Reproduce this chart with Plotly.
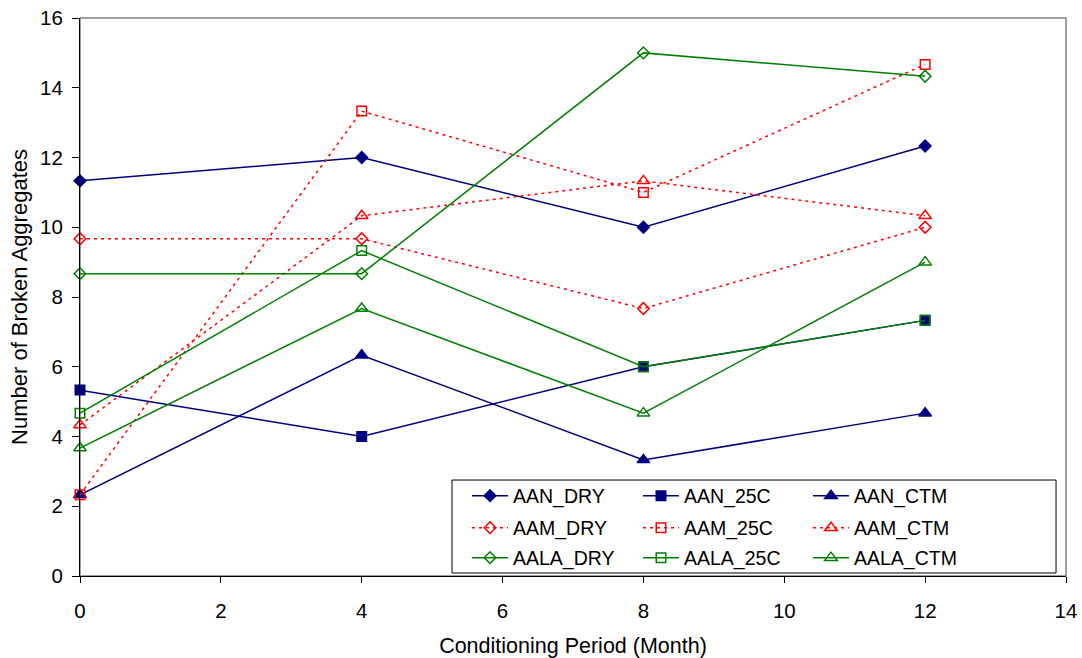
import plotly.graph_objects as go

months = [0, 4, 8, 12]

aan_dry = [11.33, 12.0, 10.0, 12.33]
aan_25c = [5.33, 4.0, 6.0, 7.33]
aan_ctm = [2.33, 6.33, 3.33, 4.67]
aam_dry = [9.67, 9.67, 7.67, 10.0]
aam_25c = [2.33, 13.33, 11.0, 14.67]
aam_ctm = [4.33, 10.33, 11.33, 10.33]
aala_dry = [8.67, 8.67, 15.0, 14.33]
aala_25c = [4.67, 9.33, 6.0, 7.33]
aala_ctm = [3.67, 7.67, 4.67, 9.0]

x_ticks = [0, 2, 4, 6, 8, 10, 12, 14]
y_ticks = [0, 2, 4, 6, 8, 10, 12, 14, 16]

NAVY = "#000080"
RED = "#FF0000"
GREEN = "#008000"
FONT = "Liberation Sans, Arial, sans-serif"

series = [
    ("AAN_DRY", aan_dry, NAVY, "solid", "diamond", True),
    ("AAN_25C", aan_25c, NAVY, "solid", "square", True),
    ("AAN_CTM", aan_ctm, NAVY, "solid", "triangle-up", True),
    ("AAM_DRY", aam_dry, RED, "3px,4px", "diamond", False),
    ("AAM_25C", aam_25c, RED, "3px,4px", "square", False),
    ("AAM_CTM", aam_ctm, RED, "3px,4px", "triangle-up", False),
    ("AALA_DRY", aala_dry, GREEN, "solid", "diamond", False),
    ("AALA_25C", aala_25c, GREEN, "solid", "square", False),
    ("AALA_CTM", aala_ctm, GREEN, "solid", "triangle-up", False),
]

sizes = {"diamond": 9, "square": 9.5, "triangle-up": 11}

# legend grid: 3 columns x 3 rows (paper coords)
col_x = [0.3925, 0.5659, 0.7383]
row_y = [0.1434, 0.0860, 0.0323]

fig = go.Figure()
legends = {}
for i, (name, vals, color, dash, sym, filled) in enumerate(series):
    leg_id = "legend" if i == 0 else f"legend{i + 1}"
    fig.add_trace(go.Scatter(
        x=months, y=vals, name=name, mode="lines+markers",
        line=dict(color=color, width=1.5, dash=dash),
        marker=dict(symbol=sym if filled else sym + "-open", size=sizes[sym],
                    color=color, line=dict(color=color, width=1.5)),
        cliponaxis=False, legend=leg_id,
    ))
    legends[leg_id] = dict(
        font=dict(family=FONT, size=19.5, color="#000"),
        bgcolor="rgba(0,0,0,0)", borderwidth=0,
        xanchor="left", yanchor="middle",
        x=col_x[i % 3], y=row_y[i // 3], itemwidth=36,
    )

fig.update_layout(
    width=1082, height=658,
    margin=dict(l=80, r=16, t=18, b=82),
    paper_bgcolor="white", plot_bgcolor="white",
    font=dict(family=FONT, size=20, color="#000"),
    showlegend=True,
    xaxis=dict(range=[0, 14], tickvals=x_ticks, ticks="outside", ticklen=6,
               tickcolor="#000", showline=True, linecolor="#000", linewidth=1,
               showgrid=False, zeroline=False, ticklabelstandoff=10,
               automargin=False, ticklabeloverflow="allow",
               tickfont=dict(size=20.5),
               title=dict(text="Conditioning Period (Month)",
                          font=dict(size=21.5), standoff=20)),
    yaxis=dict(range=[0, 16], tickvals=y_ticks, ticks="outside", ticklen=7,
               tickcolor="#000", showline=True, linecolor="#000", linewidth=1,
               showgrid=False, zeroline=False, ticklabelstandoff=5,
               automargin=False, ticklabeloverflow="allow",
               tickfont=dict(size=20.5),
               title=dict(text="Number of Broken Aggregates",
                          font=dict(size=22), standoff=6)),
    shapes=[
        dict(type="rect", xref="paper", yref="paper", x0=0, x1=1, y0=0, y1=1,
             line=dict(color="#808080", width=1.5), layer="below"),
        dict(type="rect", xref="paper", yref="paper", x0=0.3773, x1=0.9899,
             y0=0.0054, y1=0.172, line=dict(color="#000", width=1),
             fillcolor="white", layer="below"),
    ],
)
fig.update_layout(**legends)

# remove the browser's default 8px body margin so the figure fills the window
fig.write_html("out.html",
               config={"displayModeBar": False},
               post_script="document.body.style.margin='0';"
                           "document.body.style.overflow='hidden';")
